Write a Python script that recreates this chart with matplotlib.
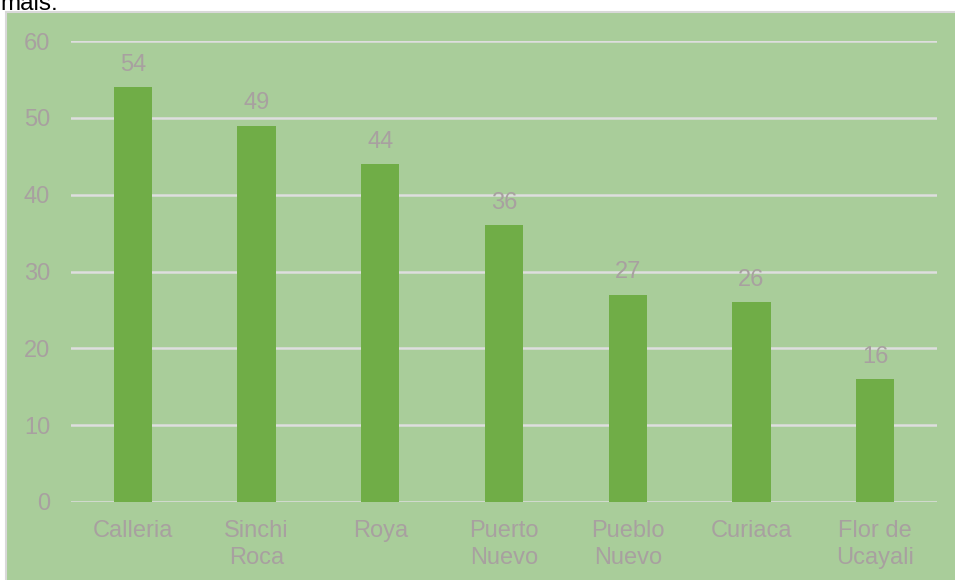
import matplotlib
matplotlib.use("Agg")
import matplotlib.pyplot as plt
from matplotlib.patches import Rectangle

plt.rcParams['font.family'] = ['Liberation Sans', 'DejaVu Sans']

categories = ["Calleria", "Sinchi\nRoca", "Roya", "Puerto\nNuevo", "Pueblo\nNuevo", "Curiaca", "Flor de\nUcayali"]
values = [54, 49, 44, 36, 27, 26, 16]
yticks = [0, 10, 20, 30, 40, 50, 60]

BG = "#A9CD9A"
BAR = "#70AD47"
GRID = "#DEDEDE"
TXT = "#A8A0A0"
FS = 17

fig = plt.figure(figsize=(9.55, 5.8), dpi=100)
fig.patch.set_facecolor("white")

# chart area panel with a light border (runs past the bottom and right edges)
W, H = 955, 580
panel = Rectangle((6 / W, -0.05), 1.0, 1.05 - 12 / H, transform=fig.transFigure,
                  facecolor=BG, edgecolor="#D9D9D9", linewidth=1.5, zorder=-10)
fig.patches.append(panel)

# trailing text from the surrounding document
fig.text(0.0, 1 - 10 / H, "mais:", fontsize=17.5, color="black", va="baseline", ha="left")

ax = fig.add_axes([71 / W, 1 - 502 / H, (937 - 71) / W, (502 - 41) / H])
ax.set_facecolor("none")
ax.set_zorder(1)

x = list(range(len(categories)))
bars = ax.bar(x, values, width=0.31, color=BAR, zorder=3)

for xi, v in zip(x, values):
    ax.annotate(str(v), (xi, v), xytext=(0, 8), textcoords="offset points",
                ha="center", va="bottom", fontsize=FS, color=TXT)

ax.set_xlim(-0.5, len(categories) - 0.5)
ax.set_ylim(0, 60)
ax.set_yticks(yticks)
ax.set_xticks(x)
ax.set_xticklabels(categories, linespacing=1.3)
ax.yaxis.grid(True, color=GRID, linewidth=1.8, zorder=1)
ax.set_axisbelow(True)
for s in ax.spines.values():
    s.set_visible(False)
ax.tick_params(axis="both", length=0, labelsize=FS, labelcolor=TXT)
ax.tick_params(axis="y", pad=15)
ax.tick_params(axis="x", pad=13)

fig.savefig("out.png", dpi=100, facecolor=fig.get_facecolor())
